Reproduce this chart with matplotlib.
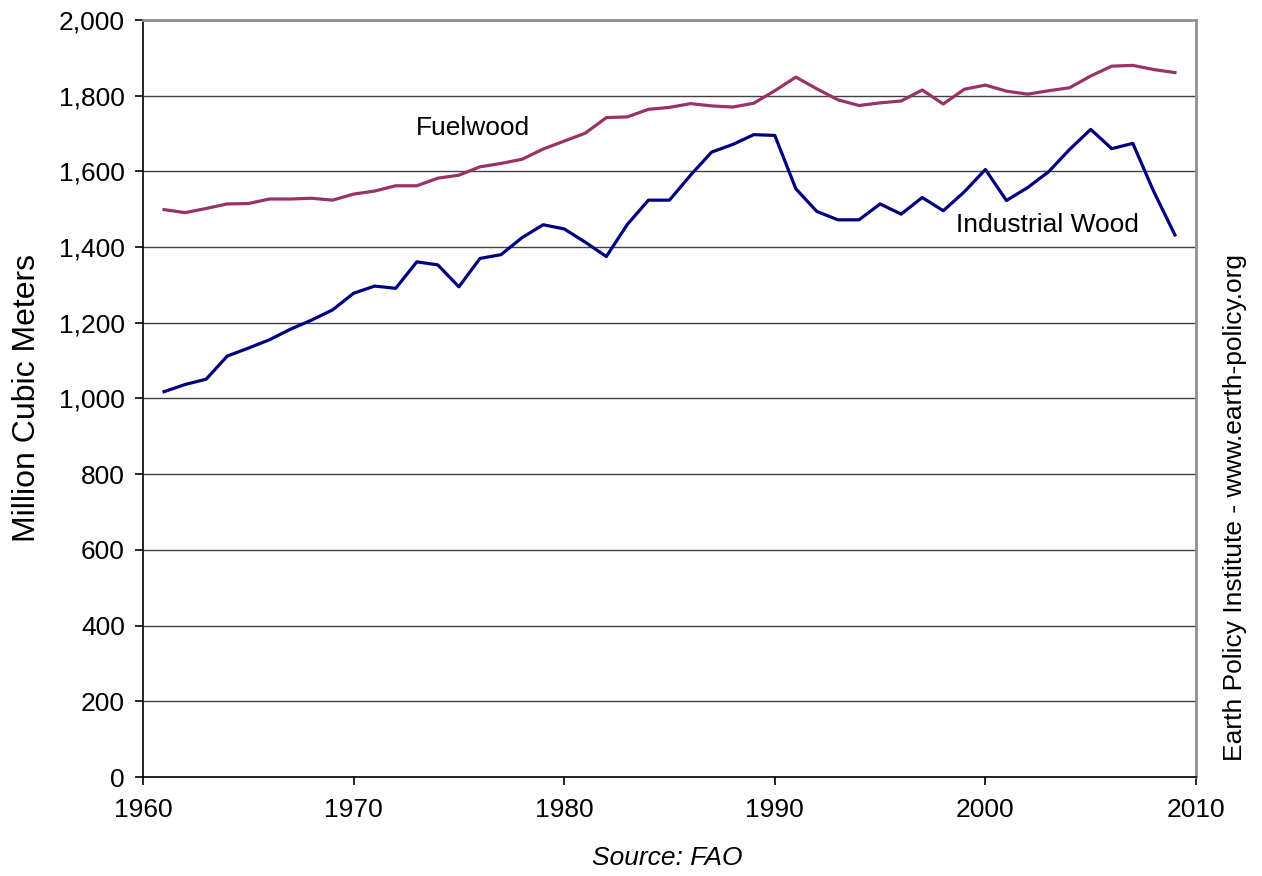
import numpy as np
import matplotlib
matplotlib.use('Agg')
import matplotlib.pyplot as plt
from matplotlib.ticker import FuncFormatter

plt.rcParams['font.family'] = ['Liberation Sans', 'DejaVu Sans']

years = np.arange(1961, 2010)
fuelwood = [1499, 1491, 1502, 1514, 1515, 1527, 1527, 1529, 1524, 1540,
            1548, 1562, 1562, 1582, 1590, 1612, 1621, 1632, 1659, 1680,
            1701, 1742, 1744, 1764, 1769, 1779, 1773, 1770, 1780, 1813,
            1849, 1818, 1789, 1774, 1781, 1786, 1815, 1778, 1817, 1828,
            1812, 1804, 1813, 1821, 1852, 1878, 1880, 1869, 1861]
industrial = [1018, 1037, 1051, 1112, 1133, 1155, 1183, 1207, 1234, 1278,
              1297, 1291, 1361, 1353, 1295, 1370, 1380, 1425, 1459, 1448,
              1413, 1375, 1460, 1524, 1524, 1590, 1651, 1671, 1697, 1695,
              1554, 1494, 1472, 1472, 1514, 1487, 1531, 1496, 1546, 1605,
              1523, 1557, 1599, 1658, 1711, 1660, 1674, 1546, 1432]

fig = plt.figure(figsize=(12.62, 8.76), dpi=100)
ax = fig.add_axes([0.1133, 0.1130, 0.8344, 0.8642])

ax.plot(years, fuelwood, color='#993366', lw=2.3)
ax.plot(years, industrial, color='#000080', lw=2.3)

ax.set_xlim(1960, 2010)
ax.set_ylim(0, 2000)
ax.set_xticks(np.arange(1960, 2011, 10))
ax.set_yticks(np.arange(0, 2001, 200))
ax.yaxis.set_major_formatter(FuncFormatter(lambda v, p: '{:,.0f}'.format(v)))
ax.grid(axis='y', color='#404040', lw=1)
ax.set_axisbelow(True)
ax.tick_params(labelsize=19, length=6, width=1.2, direction='out')
ax.tick_params(axis='x', pad=9)
ax.tick_params(axis='y', pad=7)
for s in ['left', 'bottom']:
    ax.spines[s].set_color('black')
    ax.spines[s].set_linewidth(1.2)
for s in ['top', 'right']:
    ax.spines[s].set_color('#909090')
    ax.spines[s].set_linewidth(2)

ax.set_ylabel('Million Cubic Meters', fontsize=23, labelpad=12)

ax.text(1972.96, 1715, 'Fuelwood', fontsize=19, va='center', ha='left')
ax.text(1998.6, 1458, 'Industrial Wood', fontsize=19, va='center', ha='left')

fig.text(0.979, 0.421, 'Earth Policy Institute - www.earth-policy.org',
         rotation=90, fontsize=19, ha='center', va='center')
fig.text(0.529, 0.0205, 'Source: FAO', fontsize=19, style='italic',
         ha='center', va='center')

fig.savefig('out.png', dpi=100)
